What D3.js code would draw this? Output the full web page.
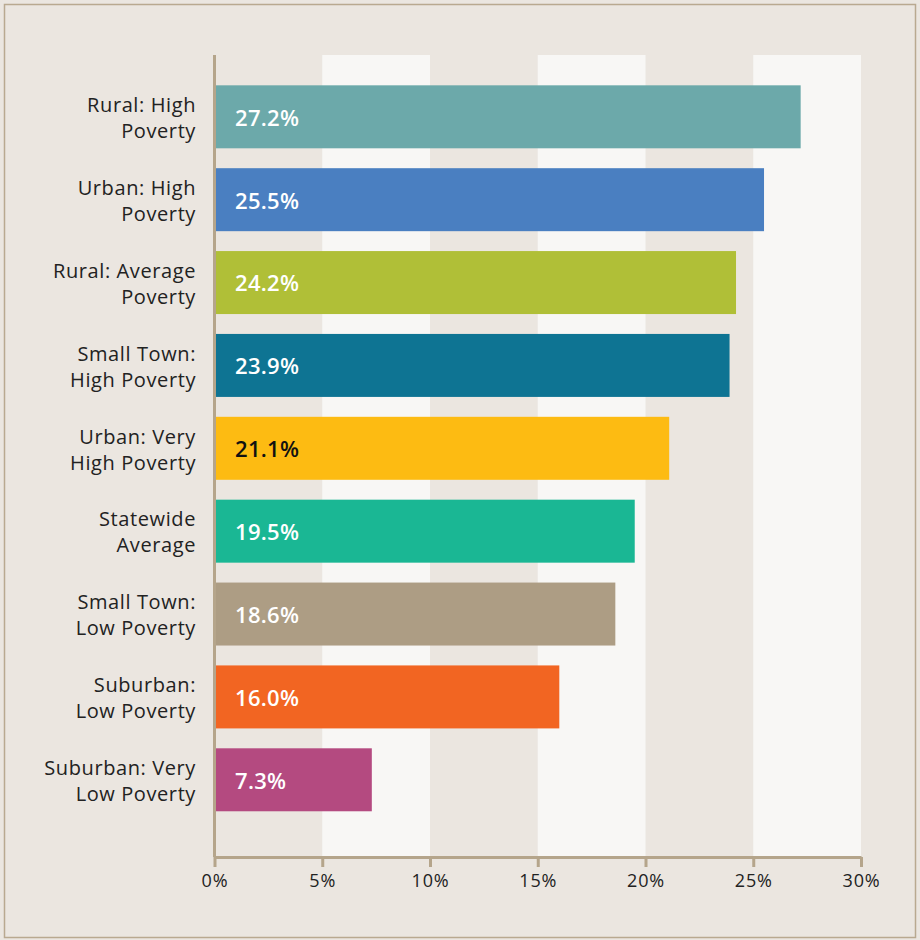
<!DOCTYPE html>
<html>
<head>
<meta charset="utf-8">
<script src="https://cdn.jsdelivr.net/npm/d3@7"></script>
<style>
  html, body { margin: 0; padding: 0; background: #ebe6e0; }
  svg { display: block; }
</style>
</head>
<body>
<svg id="chart" width="920" height="940"></svg>
<script>
const categories = [
  ["Rural: High", "Poverty"],
  ["Urban: High", "Poverty"],
  ["Rural: Average", "Poverty"],
  ["Small Town:", "High Poverty"],
  ["Urban: Very", "High Poverty"],
  ["Statewide", "Average"],
  ["Small Town:", "Low Poverty"],
  ["Suburban:", "Low Poverty"],
  ["Suburban: Very", "Low Poverty"]
];
const values = [27.2, 25.5, 24.2, 23.9, 21.1, 19.5, 18.6, 16.0, 7.3];
const colors = ["#6ca9aa", "#4a7fc1", "#b0bf37", "#0e7493", "#fdbb12", "#1ab794", "#ad9d84", "#f26522", "#b44a80"];
const labelColors = ["#fff", "#fff", "#fff", "#fff", "#111", "#fff", "#fff", "#fff", "#fff"];
const ticks = [0, 5, 10, 15, 20, 25, 30];

const svg = d3.select("#chart");
const font = "'Open Sans', 'Noto Sans', sans-serif";

// outer frame
svg.append("rect").attr("x", 4.5).attr("y", 4.5).attr("width", 911).attr("height", 933)
  .attr("fill", "#ebe6e0").attr("stroke", "#b9a990").attr("stroke-width", 1.5);

const x = d3.scaleLinear().domain([0, 30]).range([214.5, 861]);
const idx = d3.range(categories.length);
const y = d3.scaleBand().domain(idx).range([64.6, 832]).paddingInner(0.24).paddingOuter(0.25);
const plotTop = 55, plotBottom = 857;

// alternating bands
for (let i = 0; i < ticks.length - 1; i++) {
  if (i % 2 === 1) {
    svg.append("rect").attr("x", x(ticks[i])).attr("y", plotTop)
      .attr("width", x(ticks[i + 1]) - x(ticks[i])).attr("height", plotBottom - plotTop)
      .attr("fill", "#f8f7f5");
  }
}

// bars
svg.selectAll("rect.bar").data(idx).enter().append("rect").attr("class", "bar")
  .attr("x", x(0)).attr("y", d => y(d))
  .attr("width", d => x(values[d]) - x(0)).attr("height", y.bandwidth())
  .attr("fill", d => colors[d]);

// value labels
svg.selectAll("text.val").data(idx).enter().append("text").attr("class", "val")
  .attr("x", 235).attr("y", d => y(d) + y.bandwidth() / 2 + 1)
  .attr("dy", "0.36em")
  .attr("font-family", font).attr("font-size", 22).attr("font-weight", 600)
  .attr("letter-spacing", 0.3)
  .attr("fill", d => labelColors[d])
  .text(d => values[d].toFixed(1) + "%");

// category labels
const cat = svg.selectAll("text.cat").data(idx).enter().append("text").attr("class", "cat")
  .attr("text-anchor", "end")
  .attr("font-family", font).attr("font-size", 20).attr("letter-spacing", 0.6).attr("fill", "#222");
cat.append("tspan").attr("x", 196).attr("y", d => y(d) + y.bandwidth() / 2 - 12).attr("dy", "0.36em")
  .text(d => categories[d][0]);
cat.append("tspan").attr("x", 196).attr("y", d => y(d) + y.bandwidth() / 2 + 14).attr("dy", "0.36em")
  .text(d => categories[d][1]);

// y axis line
svg.append("line").attr("x1", x(0)).attr("x2", x(0)).attr("y1", plotTop).attr("y2", plotBottom)
  .attr("stroke", "#b5a58b").attr("stroke-width", 3);

// x axis
const xAxis = d3.axisBottom(x).tickValues(ticks).tickFormat(d => d + "%").tickSize(10).tickSizeOuter(0);
const gx = svg.append("g").attr("transform", `translate(0,${plotBottom})`).call(xAxis);
gx.select(".domain").attr("stroke", "#b5a58b").attr("stroke-width", 3);
gx.selectAll(".tick line").attr("stroke", "#b5a58b").attr("stroke-width", 3);
gx.selectAll(".tick text").attr("font-family", font).attr("font-size", 18).attr("letter-spacing", 0.8)
  .attr("fill", "#222").attr("dy", "0.95em");
</script>
</body>
</html>
